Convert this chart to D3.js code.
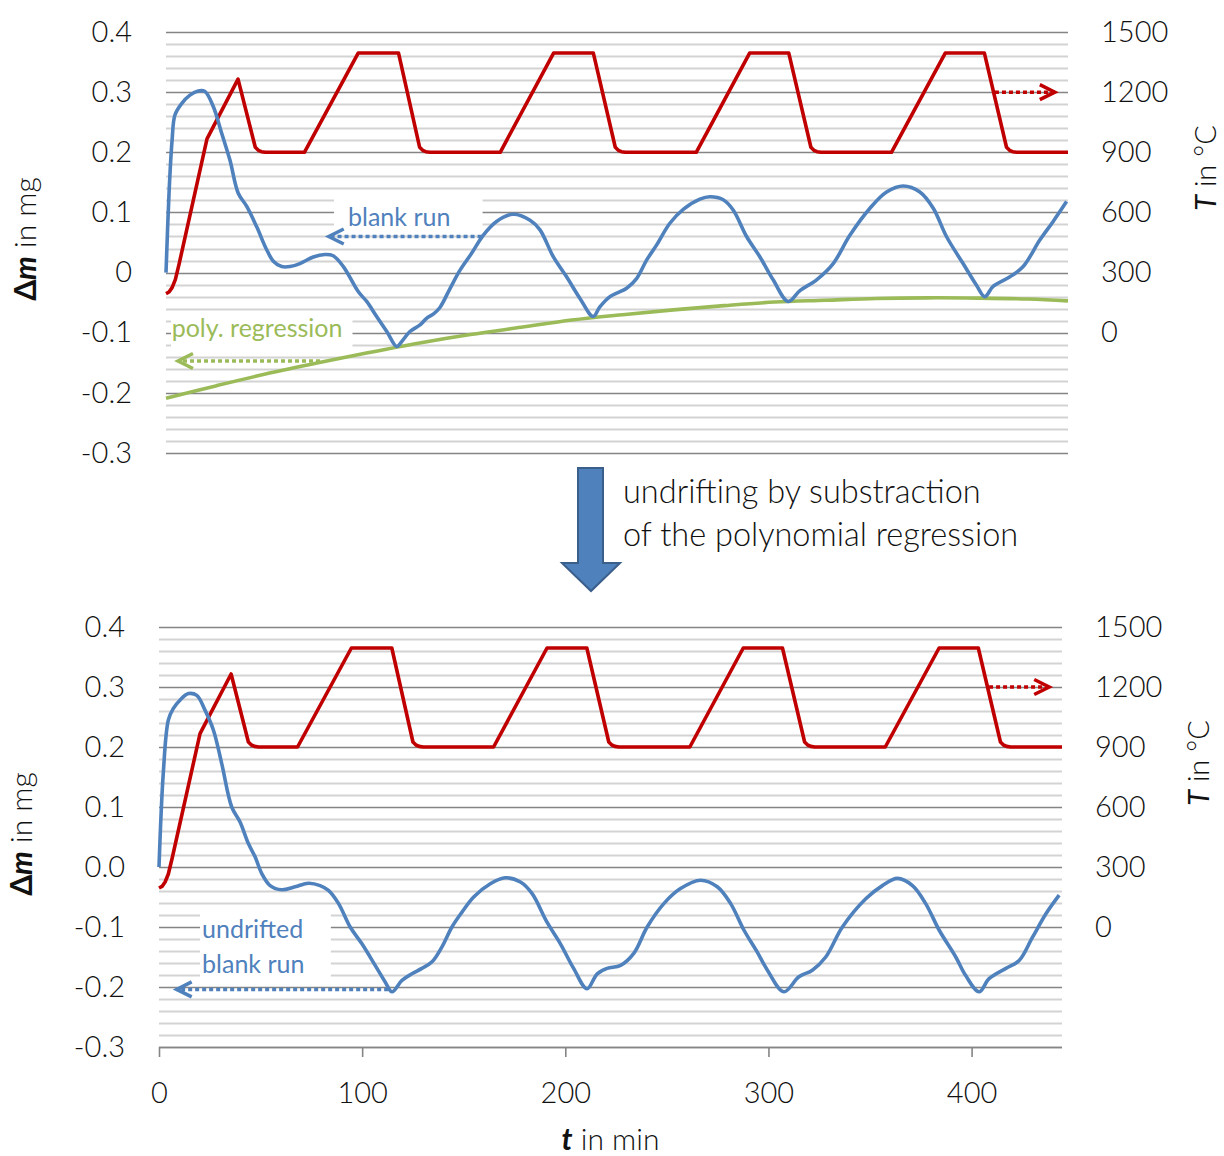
<!DOCTYPE html>
<html>
<head>
<meta charset="utf-8">
<title>Blank run undrifting</title>
<script src="https://cdn.jsdelivr.net/npm/d3@7"></script>
<style>
  body { margin: 0; background: #fff; }
  svg text { font-family: Lato, "Open Sans", sans-serif; fill: #111; }
</style>
</head>
<body>
<div id="chart"></div>
<script>

// temperature programme (T in degC over t in min)
var tempTime  = [0, 1.5, 3, 4.6, 6.5, 20.2, 35.5, 44.0, 45.5, 47, 49, 68.2, 94.7, 114.6,
                 125.0, 126.5, 128, 130, 164.7, 191.0, 210.6,
                 221.4, 222.9, 224.4, 226.4, 261.3, 287.6, 306.9,
                 317.8, 319.3, 320.8, 322.8, 357.5, 384.0, 403.3,
                 414.2, 415.7, 417.2, 419.2, 444.5];
var tempValue = [195, 203, 225, 265, 345, 967, 1265, 925, 910, 903, 900, 900, 1395, 1395,
                 925, 910, 903, 900, 900, 1395, 1395,
                 925, 910, 903, 900, 900, 1395, 1395,
                 925, 910, 903, 900, 900, 1395, 1395,
                 925, 910, 903, 900, 900];

// raw blank run (mg)
var blankTime  = [0, 1.6, 3.0, 4.4, 7.7, 11.8, 15.9, 19.2, 23.3, 27.4, 31.5, 35.6, 39.8, 44.7,
                  49.6, 52.9, 57.0, 61.1, 66.0, 72.6, 78.3, 82.4, 87.4, 94.8, 98.9, 103.8,
                  108.8, 113.7, 116.1, 120.2, 125.2, 128.4, 131.7, 135.0, 139.9, 144.9, 150.6,
                  156.3, 162.9, 171.1, 179.4, 184.3, 190.9, 197.4, 204.0, 210.5, 213.8, 218.8,
                  227.0, 231.9, 236.9, 241.8, 248.3, 254.9, 263.1, 268.0, 274.6, 279.5, 286.1,
                  292.7, 299.2, 306.6, 312.4, 320.6, 328.8, 337.0, 346.9, 355.1, 363.3, 371.5,
                  378.1, 384.6, 392.8, 399.4, 403.5, 407.6, 415.9, 422.4, 430.6, 437.2, 443.8];
var blankValue = [0.000, 0.140, 0.220, 0.262, 0.281, 0.295, 0.302, 0.301, 0.276, 0.232, 0.187,
                  0.132, 0.110, 0.076, 0.038, 0.019, 0.010, 0.010, 0.015, 0.026, 0.030, 0.028,
                  0.010, -0.032, -0.048, -0.073, -0.098, -0.123, -0.115, -0.098, -0.087, -0.076,
                  -0.069, -0.058, -0.027, 0.004, 0.032, 0.062, 0.085, 0.097, 0.087, 0.071, 0.026,
                  -0.007, -0.043, -0.073, -0.057, -0.040, -0.026, -0.010, 0.021, 0.046, 0.082,
                  0.105, 0.122, 0.126, 0.121, 0.104, 0.060, 0.026, -0.012, -0.048, -0.030,
                  -0.012, 0.015, 0.062, 0.107, 0.134, 0.144, 0.134, 0.107, 0.060, 0.015, -0.021,
                  -0.040, -0.023, -0.007, 0.010, 0.054, 0.085, 0.118];

// polynomial regression of the blank run (mg)
var polyTime  = [0, 25, 50, 75, 100, 125, 150, 175, 200, 225, 250, 275, 300, 325, 350, 375, 400, 425, 444.5];
var polyValue = [-0.209, -0.188, -0.168, -0.150, -0.133, -0.117, -0.103, -0.091, -0.079, -0.070,
                 -0.062, -0.055, -0.049, -0.046, -0.043, -0.042, -0.0425, -0.044, -0.047];

// undrifted blank run (mg)
var undriftTime  = [0, 2.1, 4.6, 7.0, 10.3, 14.5, 18.6, 22.7, 26.8, 30.9, 35.8, 39.9, 44.0, 47.3,
                    50.6, 54.7, 60.4, 67.0, 73.6, 79.3, 83.4, 88.4, 94.1, 99.9, 106.4, 111.4,
                    114.7, 119.6, 124.5, 129.4, 134.4, 139.3, 144.2, 149.0, 154.9, 163.1, 170.5,
                    177.9, 183.6, 191.0, 197.6, 204.1, 210.7, 215.7, 220.6, 227.2, 233.7, 240.3,
                    248.5, 256.7, 266.6, 274.8, 281.4, 287.9, 294.5, 299.5, 307.6, 315.0, 321.6,
                    328.2, 336.4, 347.9, 356.1, 363.5, 370.9, 377.4, 384.0, 392.2, 397.1, 403.7,
                    408.6, 416.9, 423.4, 430.0, 436.6, 443.1];
var undriftValue = [0.000, 0.156, 0.245, 0.264, 0.278, 0.289, 0.286, 0.261, 0.228, 0.172, 0.100,
                    0.075, 0.039, 0.017, -0.011, -0.031, -0.038, -0.033, -0.027, -0.031, -0.039,
                    -0.061, -0.100, -0.128, -0.164, -0.192, -0.208, -0.189, -0.178, -0.169, -0.158,
                    -0.133, -0.100, -0.076, -0.050, -0.028, -0.018, -0.025, -0.044, -0.092, -0.128,
                    -0.169, -0.203, -0.178, -0.169, -0.164, -0.144, -0.100, -0.061, -0.036, -0.022,
                    -0.033, -0.061, -0.105, -0.142, -0.172, -0.208, -0.183, -0.172, -0.150, -0.100,
                    -0.053, -0.031, -0.019, -0.031, -0.061, -0.105, -0.150, -0.181, -0.208, -0.186,
                    -0.169, -0.156, -0.117, -0.078, -0.047];

// ticks
var massTicks        = [0.4, 0.3, 0.2, 0.1, 0, -0.1, -0.2, -0.3];
var massLabelsTop    = ["0.4", "0.3", "0.2", "0.1", "0", "-0.1", "-0.2", "-0.3"];
var massLabelsBottom = ["0.4", "0.3", "0.2", "0.1", "0.0", "-0.1", "-0.2", "-0.3"];
var tempTicks        = [1500, 1200, 900, 600, 300, 0];
var timeTicks        = [0, 100, 200, 300, 400];

var blue = "#4f81bd", red = "#c00000", green = "#9bbb59";

var svg = d3.select("#chart").append("svg")
    .attr("width", 1224)
    .attr("height", 1156);

function dottedArrow(g, x1, y1, x2, y2, color)
{
    g.append("line")
        .attr("x1", x1).attr("y1", y1)
        .attr("x2", x2).attr("y2", y2)
        .attr("stroke", color)
        .attr("stroke-width", 3.5)
        .attr("stroke-dasharray", "4,3");
    var dir = x2 > x1 ? -1 : 1;
    g.append("path")
        .attr("d", "M" + (x2 + dir * 15) + "," + (y2 - 7.5) + "L" + x2 + "," + y2 +
                   "L" + (x2 + dir * 15) + "," + (y2 + 7.5))
        .attr("fill", "none")
        .attr("stroke", color)
        .attr("stroke-width", 3.5);
}

function drawPanel(box, zeroLabels, massSeries, showTimeAxis)
{
    var x  = d3.scaleLinear().domain([0, 444.5]).range([box.left, box.right]);
    var yM = d3.scaleLinear().domain([-0.3, 0.4]).range([box.bottom, box.top]);
    var yT = d3.scaleLinear().domain([-600, 1500]).range([box.bottom, box.top]);

    var g = svg.append("g");

    // grid: minor every 0.02, major every 0.1
    var steps = d3.range(-15, 21);
    g.selectAll(".grid")
        .data(steps)
      .enter().append("line")
        .attr("x1", box.left)
        .attr("x2", box.right)
        .attr("y1", function(i) { return Math.round(yM(i * 0.02)) + 0.5; })
        .attr("y2", function(i) { return Math.round(yM(i * 0.02)) + 0.5; })
        .attr("stroke", function(i) { return i % 5 === 0 ? "#858585" : "#d3d3d3"; })
        .attr("stroke-width", function(i) { return i % 5 === 0 ? 1.6 : 1.8; });

    // white label boxes
    massSeries.boxes.forEach(function(b) {
        g.append("rect")
            .attr("x", x(b.t0)).attr("width", x(b.t1) - x(b.t0))
            .attr("y", yM(b.v1)).attr("height", yM(b.v0) - yM(b.v1))
            .attr("fill", "#fff");
    });

    var lineT = d3.line()
        .x(function(d) { return x(d[0]); })
        .y(function(d) { return yT(d[1]); });
    var lineM = d3.line()
        .x(function(d) { return x(d[0]); })
        .y(function(d) { return yM(d[1]); })
        .curve(d3.curveCatmullRom.alpha(0.5));

    g.append("path")
        .datum(d3.zip(tempTime, tempValue))
        .attr("d", lineT)
        .attr("fill", "none")
        .attr("stroke", red)
        .attr("stroke-width", 3.6)
        .attr("stroke-linejoin", "round");

    massSeries.lines.forEach(function(s) {
        g.append("path")
            .datum(d3.zip(s.t, s.v))
            .attr("d", lineM)
            .attr("fill", "none")
            .attr("stroke", s.color)
            .attr("stroke-width", 3.6)
            .attr("stroke-linejoin", "round");
    });

    // left axis labels
    var left = g.append("g")
        .attr("transform", "translate(" + box.left + ",0)")
        .call(d3.axisLeft(yM).tickValues(massTicks).tickSize(0).tickPadding(34)
              .tickFormat(function(d, i) { return zeroLabels[i]; }));
    left.select(".domain").remove();
    left.selectAll("text").attr("font-size", 29).attr("font-family", null)
        .attr("font-weight", 300).attr("fill", "#111");

    // right axis labels
    var right = g.append("g")
        .attr("transform", "translate(" + box.right + ",0)")
        .call(d3.axisRight(yT).tickValues(tempTicks).tickSize(0).tickPadding(33)
              .tickFormat(d3.format("d")));
    right.select(".domain").remove();
    right.selectAll("text").attr("font-size", 29).attr("font-family", null)
        .attr("font-weight", 300).attr("fill", "#111");

    // axis titles
    var lt = g.append("text")
        .attr("transform", "translate(" + (box.left - box.titleLeft) + "," + (box.top + 207) + ") rotate(-90)")
        .attr("text-anchor", "middle")
        .attr("font-size", 30);
    lt.append("tspan").attr("font-weight", "bold").text("\u0394");
    lt.append("tspan").attr("font-weight", "bold").attr("font-style", "italic").text("m");
    lt.append("tspan").attr("font-weight", 300).text(" in mg");

    var rt = g.append("text")
        .attr("transform", "translate(" + (box.right + box.titleRight) + "," + (box.top + 136) + ") rotate(-90)")
        .attr("text-anchor", "middle")
        .attr("font-size", 29);
    rt.append("tspan").attr("font-style", "italic").text("T");
    rt.append("tspan").attr("font-weight", 300).text(" in \u00b0C");

    if (showTimeAxis) {
        var bottom = g.append("g")
            .attr("transform", "translate(0," + box.bottom + ")")
            .call(d3.axisBottom(x).tickValues(timeTicks).tickSize(10).tickPadding(25).tickSizeOuter(0));
        bottom.select(".domain").attr("stroke", "#858585").attr("stroke-width", 1.6)
            .attr("d", "M" + box.left + ",0.5H" + box.right);
        bottom.selectAll(".tick line").attr("stroke", "#858585").attr("stroke-width", 1.6);
        bottom.selectAll("text").attr("font-size", 29).attr("font-family", null)
            .attr("font-weight", 300).attr("fill", "#111");

        var xt = g.append("text")
            .attr("x", (box.left + box.right) / 2)
            .attr("y", box.bottom + 103)
            .attr("text-anchor", "middle")
            .attr("font-size", 30);
        xt.append("tspan").attr("font-weight", "bold").attr("font-style", "italic").text("t");
        xt.append("tspan").attr("font-weight", 300).text(" in min");
    }

    // annotations
    massSeries.labels.forEach(function(l) {
        g.append("text")
            .attr("x", x(l.t)).attr("y", yM(l.v))
            .attr("font-size", 25)
            .style("fill", l.color)
            .text(l.text);
    });
    massSeries.arrows.forEach(function(a) {
        var yy = a.temp ? yT(a.v) : yM(a.v);
        dottedArrow(g, x(a.t0), yy, x(a.t1), yy, a.color);
    });
}

drawPanel({ left: 166, right: 1068, top: 32, bottom: 453, titleLeft: 130, titleRight: 148 }, massLabelsTop, {
    lines: [
        { t: polyTime, v: polyValue, color: green },
        { t: blankTime, v: blankValue, color: blue }
    ],
    boxes: [
        { t0: 82.8, t1: 156.0, v0: 0.066, v1: 0.133 },
        { t0: 2.5, t1: 91.9, v0: -0.128, v1: -0.068 }
    ],
    labels: [
        { t: 89.7, v: 0.077, text: "blank run", color: blue },
        { t: 2.8, v: -0.107, text: "poly. regression", color: green }
    ],
    arrows: [
        { t0: 155.5, t1: 80.2, v: 0.06, color: blue },
        { t0: 75.9, t1: 5.9, v: -0.147, color: green },
        { t0: 408.5, t1: 438.0, v: 1200, temp: true, color: red }
    ]
}, false);

drawPanel({ left: 159, right: 1062, top: 627, bottom: 1047, titleLeft: 127, titleRight: 147 }, massLabelsBottom, {
    lines: [
        { t: undriftTime, v: undriftValue, color: blue }
    ],
    boxes: [
        { t0: 20.2, t1: 84.6, v0: -0.19, v1: -0.073 }
    ],
    labels: [
        { t: 21.2, v: -0.119, text: "undrifted", color: blue },
        { t: 21.2, v: -0.177, text: "blank run", color: blue }
    ],
    arrows: [
        { t0: 112.8, t1: 8.7, v: -0.204, color: blue },
        { t0: 408.6, t1: 438.2, v: 1200, temp: true, color: red }
    ]
}, true);

// block arrow between the panels
svg.append("path")
    .attr("d", "M578,468H603V563H620L591,591L562,563H578Z")
    .attr("fill", "#4f81bd")
    .attr("stroke", "#3a5f8b")
    .attr("stroke-width", 2);

svg.append("text")
    .attr("x", 623).attr("y", 503)
    .attr("font-size", 32.5)
    .attr("font-weight", 300)
    .text("undrifting by substraction");
svg.append("text")
    .attr("x", 623).attr("y", 546)
    .attr("font-size", 32.5)
    .attr("font-weight", 300)
    .text("of the polynomial regression");

</script>
</body>
</html>
